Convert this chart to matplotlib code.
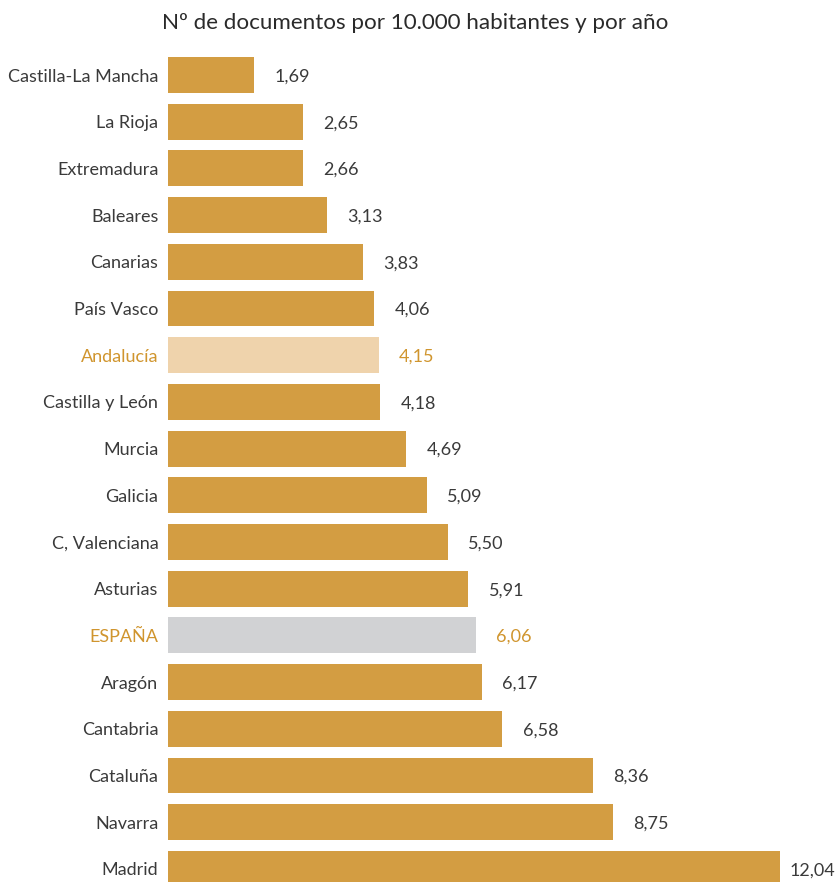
import matplotlib.pyplot as plt

plt.rcParams['font.family'] = ['Lato', 'DejaVu Sans']

regions = ["Castilla-La Mancha", "La Rioja", "Extremadura", "Baleares", "Canarias",
           "País Vasco", "Andalucía", "Castilla y León", "Murcia", "Galicia",
           "C, Valenciana", "Asturias", "ESPAÑA", "Aragón", "Cantabria",
           "Cataluña", "Navarra", "Madrid"]
values = [1.69, 2.65, 2.66, 3.13, 3.83, 4.06, 4.15, 4.18, 4.69, 5.09,
          5.50, 5.91, 6.06, 6.17, 6.58, 8.36, 8.75, 12.04]

gold = '#D39D42'
text_dark = '#3a3a3a'
highlight_text = '#D0952E'
bar_colors = {"Andalucía": '#EFD3AC', "ESPAÑA": '#D1D2D4'}

W, H = 837, 882
fig = plt.figure(figsize=(W / 100, H / 100), dpi=100)

# axes placed so bars start at x=168px; rows every ~46.7px starting at 75px
left_px = 168
px_per_unit = (780 - 168) / 12.04
row0, step = 75, 46.7
ax = fig.add_axes([left_px / W, 0, (W - left_px) / W, 1])
ax.set_xlim(0, (W - left_px) / px_per_unit)
ax.set_ylim((H - row0) / step, -row0 / step)
ax.axis('off')

vmax = max(values)
for i, (name, v) in enumerate(zip(regions, values)):
    ax.barh(i, v, height=0.77, color=bar_colors.get(name, gold))
    tc = highlight_text if name in bar_colors else text_dark
    ax.annotate(name, (0, i), xytext=(-7, 0), textcoords='offset points',
                ha='right', va='center_baseline', fontsize=13, color=tc)
    # the longest bar gets a tighter gap so its label fits in the figure
    off = 7 if v == vmax else 14.5
    ax.annotate(f"{v:.2f}".replace('.', ','), (v, i), xytext=(off, 0),
                textcoords='offset points', ha='left', va='center_baseline',
                fontsize=13, color=tc)

fig.text(415 / W, 1 - 21 / H, "Nº de documentos por 10.000 habitantes y por año",
         ha='center', va='center_baseline', fontsize=16.1, color='#2a2a2a')

fig.savefig('out.png', dpi=100)
